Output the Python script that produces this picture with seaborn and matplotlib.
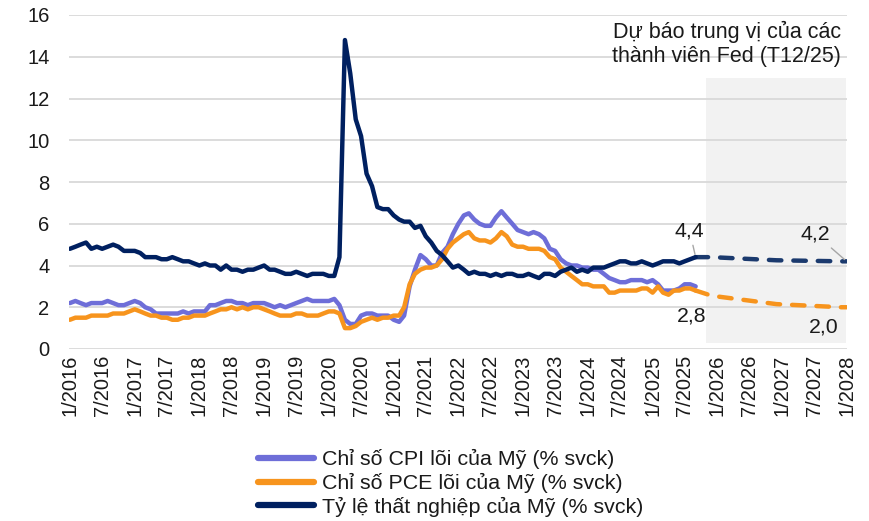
import pandas as pd
import seaborn as sns
import matplotlib.pyplot as plt

# monthly data 1/2016 - 9/2025
months = pd.date_range("2016-01-01", "2025-09-01", freq="MS")

core_cpi = [2.2, 2.3, 2.2, 2.1, 2.2, 2.2, 2.2, 2.3, 2.2, 2.1, 2.1, 2.2,
            2.3, 2.2, 2.0, 1.9, 1.7, 1.7, 1.7, 1.7, 1.7, 1.8, 1.7, 1.8,
            1.8, 1.8, 2.1, 2.1, 2.2, 2.3, 2.3, 2.2, 2.2, 2.1, 2.2, 2.2,
            2.2, 2.1, 2.0, 2.1, 2.0, 2.1, 2.2, 2.3, 2.4, 2.3, 2.3, 2.3,
            2.3, 2.4, 2.1, 1.4, 1.2, 1.2, 1.6, 1.7, 1.7, 1.6, 1.6, 1.6,
            1.4, 1.3, 1.6, 3.0, 3.8, 4.5, 4.3, 4.0, 4.0, 4.6, 4.9, 5.5,
            6.0, 6.4, 6.5, 6.2, 6.0, 5.9, 5.9, 6.3, 6.6, 6.3, 6.0, 5.7,
            5.6, 5.5, 5.6, 5.5, 5.3, 4.8, 4.7, 4.3, 4.1, 4.0, 4.0, 3.9,
            3.9, 3.8, 3.8, 3.6, 3.4, 3.3, 3.2, 3.2, 3.3, 3.3, 3.3, 3.2,
            3.3, 3.1, 2.8, 2.8, 2.8, 2.9, 3.1, 3.1, 3.0]

core_pce = [1.4, 1.5, 1.5, 1.5, 1.6, 1.6, 1.6, 1.6, 1.7, 1.7, 1.7, 1.8,
            1.9, 1.8, 1.7, 1.6, 1.6, 1.5, 1.5, 1.4, 1.4, 1.5, 1.5, 1.6,
            1.6, 1.6, 1.7, 1.8, 1.9, 1.9, 2.0, 1.9, 2.0, 1.9, 2.0, 2.0,
            1.9, 1.8, 1.7, 1.6, 1.6, 1.6, 1.7, 1.7, 1.6, 1.6, 1.6, 1.7,
            1.8, 1.8, 1.7, 1.0, 1.0, 1.1, 1.3, 1.4, 1.5, 1.4, 1.5, 1.5,
            1.6, 1.6, 2.0, 3.1, 3.6, 3.8, 3.9, 3.9, 4.0, 4.3, 4.8, 5.1,
            5.3, 5.5, 5.6, 5.3, 5.2, 5.2, 5.1, 5.3, 5.6, 5.4, 5.0, 4.9,
            4.9, 4.8, 4.8, 4.8, 4.7, 4.4, 4.3, 3.9, 3.7, 3.5, 3.3, 3.1,
            3.1, 3.0, 3.0, 3.0, 2.7, 2.7, 2.8, 2.8, 2.8, 2.8, 2.9, 2.9,
            2.7, 3.0, 2.7, 2.6, 2.8, 2.8, 2.9, 2.9, 2.8]

unemployment = [4.8, 4.9, 5.0, 5.1, 4.8, 4.9, 4.8, 4.9, 5.0, 4.9, 4.7, 4.7,
                4.7, 4.6, 4.4, 4.4, 4.4, 4.3, 4.3, 4.4, 4.3, 4.2, 4.2, 4.1,
                4.0, 4.1, 4.0, 4.0, 3.8, 4.0, 3.8, 3.8, 3.7, 3.8, 3.8, 3.9,
                4.0, 3.8, 3.8, 3.7, 3.6, 3.6, 3.7, 3.6, 3.5, 3.6, 3.6, 3.6,
                3.5, 3.5, 4.4, 14.8, 13.2, 11.0, 10.2, 8.4, 7.8, 6.8, 6.7, 6.7,
                6.4, 6.2, 6.1, 6.1, 5.8, 5.9, 5.4, 5.1, 4.7, 4.5, 4.2, 3.9,
                4.0, 3.8, 3.6, 3.7, 3.6, 3.6, 3.5, 3.6, 3.5, 3.6, 3.6, 3.5,
                3.5, 3.6, 3.5, 3.4, 3.6, 3.6, 3.5, 3.7, 3.8, 3.9, 3.7, 3.8,
                3.7, 3.9, 3.9, 3.9, 4.0, 4.1, 4.2, 4.2, 4.1, 4.1, 4.2, 4.1,
                4.0, 4.1, 4.2, 4.2, 4.2, 4.1, 4.2, 4.3, 4.4]

# Fed median projections (T12/25)
fc_dates = pd.to_datetime(["2025-09-01", "2025-12-01", "2026-12-01", "2027-12-01", "2028-01-01"])
fc_unemployment = [4.4, 4.4, 4.25, 4.2, 4.2]
fc_pce = [2.8, 2.55, 2.15, 2.0, 2.0]

labels = ["Chỉ số CPI lõi của Mỹ (% svck)",
          "Chỉ số PCE lõi của Mỹ (% svck)",
          "Tỷ lệ thất nghiệp của Mỹ (% svck)"]
colors = ["#6E6ED8", "#F7941D", "#002060"]
fc_navy = "#1B3A6E"

df = pd.concat([
    pd.DataFrame({"date": months, "value": core_cpi, "series": labels[0]}),
    pd.DataFrame({"date": months, "value": core_pce, "series": labels[1]}),
    pd.DataFrame({"date": months, "value": unemployment, "series": labels[2]}),
])

sns.set_style("white")
plt.rcParams["font.family"] = ["Liberation Sans", "DejaVu Sans"]
text_color = "#1a1a1a"

fig, ax = plt.subplots(figsize=(8.69, 5.21), dpi=100)
fig.subplots_adjust(left=69 / 869, right=847 / 869, top=1 - 15 / 521, bottom=1 - 349 / 521)

# shaded forecast area
ax.axvspan(pd.Timestamp("2025-11-01"), pd.Timestamp("2027-12-31"), ymin=0.3 / 16, ymax=13 / 16,
           color="#F2F2F2", lw=0, zorder=0)

sns.lineplot(data=df, x="date", y="value", hue="series", hue_order=labels,
             palette=dict(zip(labels, colors)), lw=3.2, ax=ax, zorder=3)

dash = (0, (2.8, 2.7))
sns.lineplot(x=fc_dates, y=fc_pce, color=colors[1], lw=3.2, linestyle=dash,
             dash_capstyle="round", legend=False, ax=ax, zorder=2)
sns.lineplot(x=fc_dates, y=fc_unemployment, color=fc_navy, lw=3.2, linestyle=dash,
             dash_capstyle="round", legend=False, ax=ax, zorder=2)

# axes styling
ax.set_ylim(0, 16)
ax.set_xlim(pd.Timestamp("2015-12-27"), pd.Timestamp("2028-01-03"))
ax.set_yticks(range(0, 17, 2))
xt = pd.date_range("2016-01-01", "2028-01-01", freq="6MS")
ax.set_xticks(xt)
ax.set_xticklabels([f"{d.month}/{d.year}" for d in xt], rotation=90)
ax.tick_params(axis="x", length=0, pad=4, labelsize=14.5, colors=text_color)
ax.tick_params(axis="y", length=0, pad=14, labelsize=14.5, colors=text_color)
ax.yaxis.grid(True, color="#D9D9D9", lw=1.3)
ax.set_axisbelow(True)
for s in ax.spines.values():
    s.set_visible(False)
ax.set_xlabel("")
ax.set_ylabel("")

# value labels
lead = dict(arrowstyle="-", color="#A6A6A6", lw=1, shrinkA=1, shrinkB=2)
last = months[-1]
ax.annotate("4,4", xy=(last, unemployment[-1]), xytext=(-6, 26), textcoords="offset pixels",
            ha="center", va="center", fontsize=15.3, color=text_color, arrowprops=lead)
ax.annotate("2,8", xy=(last, core_pce[-1]), xytext=(-4, -25), textcoords="offset pixels",
            ha="center", va="center", fontsize=15.3, color=text_color)
ax.annotate("4,2", xy=(fc_dates[-1], fc_unemployment[-1]), xytext=(-31, 27), textcoords="offset pixels",
            ha="center", va="center", fontsize=15.3, color=text_color, arrowprops=lead)
ax.annotate("2,0", xy=(fc_dates[-1], fc_pce[-1]), xytext=(-23, -20), textcoords="offset pixels",
            ha="center", va="center", fontsize=15.3, color=text_color)

ax.text(0.992, 0.982, "Dự báo trung vị của các\nthành viên Fed (T12/25)", transform=ax.transAxes,
        ha="right", va="top", fontsize=15.5, color=text_color, linespacing=1.15)

# legend below the chart
handles, lbls = ax.get_legend_handles_labels()
ax.get_legend().remove()
for h in handles:
    h.set_linewidth(4.5)
fig.legend(handles, lbls, loc="center left", bbox_to_anchor=(258 / 869, 1 - 483 / 521),
           frameon=False, fontsize=15.4, handlelength=2.6, handletextpad=0.4,
           labelspacing=0.18, borderpad=0, borderaxespad=0, labelcolor=text_color)

fig.savefig("out.png", dpi=100)
